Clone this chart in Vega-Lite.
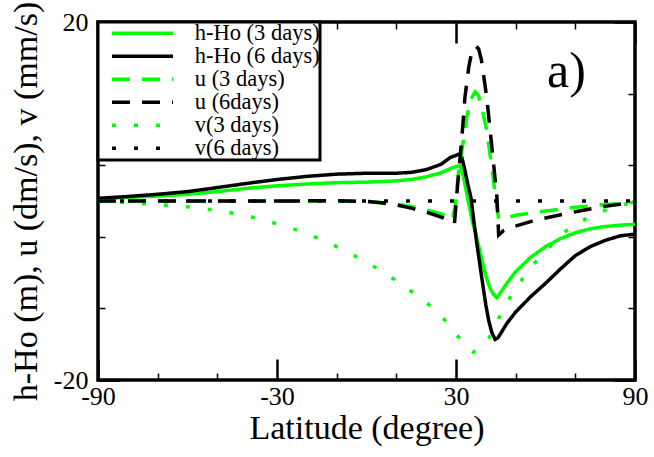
{
  "$schema": "https://vega.github.io/schema/vega-lite/v6.json",
  "width": 537,
  "height": 358,
  "autosize": "none",
  "padding": {"left": 98, "top": 22, "right": 19, "bottom": 77},
  "background": "white",
  "config": {
    "font": "Liberation Serif",
    "view": {"stroke": "black", "strokeWidth": 3.5},
    "axis": {
      "domain": false, "labelColor": "black", "titleColor": "black",
      "tickColor": "black", "labelFont": "Liberation Serif", "titleFont": "Liberation Serif",
      "titleFontWeight": "normal", "labelFlush": false, "labelOverlap": false, "labelBound": false,
      "gridColor": "black", "gridOpacity": 1
    },
    "legend": {
      "orient": "top-left", "offset": 0, "strokeColor": "black", "strokeWidth": 3,
      "fillColor": "white", "padding": 0, "labelFont": "Liberation Serif", "labelFontSize": 22.5,
      "labelColor": "black", "labelLimit": 400, "rowPadding": 0,
      "symbolType": "M0,0H7", "symbolSize": 303.8, "symbolStrokeWidth": 3.5,
      "symbolOffset": 2.75, "labelOffset": 71.5
    }
  },
  "data": {
    "values": [
      {"s": "h-Ho (3 days)", "x": -90, "y": 0.25}, {"s": "h-Ho (3 days)", "x": -80, "y": 0.4},
      {"s": "h-Ho (3 days)", "x": -70, "y": 0.55}, {"s": "h-Ho (3 days)", "x": -60, "y": 0.75},
      {"s": "h-Ho (3 days)", "x": -50, "y": 1.05}, {"s": "h-Ho (3 days)", "x": -40, "y": 1.42},
      {"s": "h-Ho (3 days)", "x": -30, "y": 1.7}, {"s": "h-Ho (3 days)", "x": -20, "y": 1.9},
      {"s": "h-Ho (3 days)", "x": -10, "y": 2.05}, {"s": "h-Ho (3 days)", "x": 0, "y": 2.1},
      {"s": "h-Ho (3 days)", "x": 10, "y": 2.25}, {"s": "h-Ho (3 days)", "x": 15, "y": 2.4},
      {"s": "h-Ho (3 days)", "x": 20, "y": 2.7}, {"s": "h-Ho (3 days)", "x": 25, "y": 3.15},
      {"s": "h-Ho (3 days)", "x": 28, "y": 3.6}, {"s": "h-Ho (3 days)", "x": 30, "y": 3.85},
      {"s": "h-Ho (3 days)", "x": 31.4, "y": 3.95}, {"s": "h-Ho (3 days)", "x": 32.5, "y": 2.7},
      {"s": "h-Ho (3 days)", "x": 33.5, "y": 1.0}, {"s": "h-Ho (3 days)", "x": 34.5, "y": -0.7},
      {"s": "h-Ho (3 days)", "x": 35.5, "y": -2.3}, {"s": "h-Ho (3 days)", "x": 36.5, "y": -3.5},
      {"s": "h-Ho (3 days)", "x": 37.5, "y": -4.9}, {"s": "h-Ho (3 days)", "x": 38.5, "y": -6.3},
      {"s": "h-Ho (3 days)", "x": 39.5, "y": -7.7}, {"s": "h-Ho (3 days)", "x": 40.5, "y": -8.9},
      {"s": "h-Ho (3 days)", "x": 41.5, "y": -9.8}, {"s": "h-Ho (3 days)", "x": 42.5, "y": -10.4},
      {"s": "h-Ho (3 days)", "x": 43.7, "y": -10.8}, {"s": "h-Ho (3 days)", "x": 45, "y": -10.2},
      {"s": "h-Ho (3 days)", "x": 47, "y": -9.2}, {"s": "h-Ho (3 days)", "x": 50, "y": -7.9},
      {"s": "h-Ho (3 days)", "x": 55, "y": -6.3}, {"s": "h-Ho (3 days)", "x": 60, "y": -5.1},
      {"s": "h-Ho (3 days)", "x": 65, "y": -4.2}, {"s": "h-Ho (3 days)", "x": 70, "y": -3.55},
      {"s": "h-Ho (3 days)", "x": 75, "y": -3.1}, {"s": "h-Ho (3 days)", "x": 80, "y": -2.85},
      {"s": "h-Ho (3 days)", "x": 85, "y": -2.7}, {"s": "h-Ho (3 days)", "x": 90, "y": -2.6},

      {"s": "h-Ho (6 days)", "x": -90, "y": 0.3}, {"s": "h-Ho (6 days)", "x": -80, "y": 0.5},
      {"s": "h-Ho (6 days)", "x": -70, "y": 0.75}, {"s": "h-Ho (6 days)", "x": -60, "y": 1.05},
      {"s": "h-Ho (6 days)", "x": -50, "y": 1.5}, {"s": "h-Ho (6 days)", "x": -40, "y": 1.97},
      {"s": "h-Ho (6 days)", "x": -30, "y": 2.4}, {"s": "h-Ho (6 days)", "x": -20, "y": 2.75},
      {"s": "h-Ho (6 days)", "x": -10, "y": 3.0}, {"s": "h-Ho (6 days)", "x": 0, "y": 3.1},
      {"s": "h-Ho (6 days)", "x": 10, "y": 3.1}, {"s": "h-Ho (6 days)", "x": 15, "y": 3.2},
      {"s": "h-Ho (6 days)", "x": 20, "y": 3.5}, {"s": "h-Ho (6 days)", "x": 25, "y": 4.1},
      {"s": "h-Ho (6 days)", "x": 28, "y": 4.85}, {"s": "h-Ho (6 days)", "x": 30, "y": 5.1},
      {"s": "h-Ho (6 days)", "x": 31.6, "y": 5.3}, {"s": "h-Ho (6 days)", "x": 32.3, "y": 4.4},
      {"s": "h-Ho (6 days)", "x": 33, "y": 3.4}, {"s": "h-Ho (6 days)", "x": 34, "y": 1.8},
      {"s": "h-Ho (6 days)", "x": 35, "y": 0.4}, {"s": "h-Ho (6 days)", "x": 36, "y": -2.3},
      {"s": "h-Ho (6 days)", "x": 37, "y": -4.8}, {"s": "h-Ho (6 days)", "x": 38, "y": -7.1},
      {"s": "h-Ho (6 days)", "x": 39, "y": -9.4}, {"s": "h-Ho (6 days)", "x": 40, "y": -11.6},
      {"s": "h-Ho (6 days)", "x": 41, "y": -13.4}, {"s": "h-Ho (6 days)", "x": 42, "y": -14.7},
      {"s": "h-Ho (6 days)", "x": 43.1, "y": -15.45}, {"s": "h-Ho (6 days)", "x": 44, "y": -15.3},
      {"s": "h-Ho (6 days)", "x": 45, "y": -14.8}, {"s": "h-Ho (6 days)", "x": 47, "y": -13.7},
      {"s": "h-Ho (6 days)", "x": 50, "y": -12.4}, {"s": "h-Ho (6 days)", "x": 55, "y": -10.7},
      {"s": "h-Ho (6 days)", "x": 60, "y": -9.2}, {"s": "h-Ho (6 days)", "x": 65, "y": -7.6},
      {"s": "h-Ho (6 days)", "x": 70, "y": -6.1}, {"s": "h-Ho (6 days)", "x": 75, "y": -5.1},
      {"s": "h-Ho (6 days)", "x": 80, "y": -4.4}, {"s": "h-Ho (6 days)", "x": 85, "y": -3.9},
      {"s": "h-Ho (6 days)", "x": 90, "y": -3.7},

      {"s": "u (3 days)", "x": -90, "y": 0}, {"s": "u (3 days)", "x": -60, "y": 0},
      {"s": "u (3 days)", "x": -30, "y": -0.02}, {"s": "u (3 days)", "x": -10, "y": 0},
      {"s": "u (3 days)", "x": 0, "y": -0.05}, {"s": "u (3 days)", "x": 10, "y": -0.35},
      {"s": "u (3 days)", "x": 15, "y": -0.6}, {"s": "u (3 days)", "x": 20, "y": -1.0},
      {"s": "u (3 days)", "x": 25, "y": -1.45}, {"s": "u (3 days)", "x": 28, "y": -1.85},
      {"s": "u (3 days)", "x": 28.8, "y": -2.1}, {"s": "u (3 days)", "x": 29.7, "y": -0.6},
      {"s": "u (3 days)", "x": 30.8, "y": 3.1}, {"s": "u (3 days)", "x": 32.5, "y": 6.8},
      {"s": "u (3 days)", "x": 33.6, "y": 9.4}, {"s": "u (3 days)", "x": 35, "y": 11.4},
      {"s": "u (3 days)", "x": 36.4, "y": 12.2}, {"s": "u (3 days)", "x": 37.5, "y": 11.8},
      {"s": "u (3 days)", "x": 38.6, "y": 10.5}, {"s": "u (3 days)", "x": 40.3, "y": 7.9},
      {"s": "u (3 days)", "x": 42, "y": 3.8}, {"s": "u (3 days)", "x": 43.1, "y": 0.9},
      {"s": "u (3 days)", "x": 44.3, "y": -2.0}, {"s": "u (3 days)", "x": 47, "y": -1.9},
      {"s": "u (3 days)", "x": 50, "y": -1.6}, {"s": "u (3 days)", "x": 58, "y": -1.2},
      {"s": "u (3 days)", "x": 70, "y": -0.7}, {"s": "u (3 days)", "x": 80, "y": -0.4},
      {"s": "u (3 days)", "x": 90, "y": -0.15},

      {"s": "u (6days)", "x": -90, "y": 0}, {"s": "u (6days)", "x": -60, "y": 0},
      {"s": "u (6days)", "x": -30, "y": 0}, {"s": "u (6days)", "x": -10, "y": 0.03},
      {"s": "u (6days)", "x": 0, "y": -0.05}, {"s": "u (6days)", "x": 5, "y": -0.2},
      {"s": "u (6days)", "x": 10, "y": -0.45}, {"s": "u (6days)", "x": 15, "y": -0.8},
      {"s": "u (6days)", "x": 20, "y": -1.25}, {"s": "u (6days)", "x": 25, "y": -1.8},
      {"s": "u (6days)", "x": 28, "y": -2.2}, {"s": "u (6days)", "x": 29.5, "y": -2.5},
      {"s": "u (6days)", "x": 30.2, "y": 0.5}, {"s": "u (6days)", "x": 31.9, "y": 6.8},
      {"s": "u (6days)", "x": 33, "y": 11.6}, {"s": "u (6days)", "x": 34.3, "y": 15.0},
      {"s": "u (6days)", "x": 35.3, "y": 16.7}, {"s": "u (6days)", "x": 36.6, "y": 17.3},
      {"s": "u (6days)", "x": 37.6, "y": 17.0}, {"s": "u (6days)", "x": 38.5, "y": 15.8},
      {"s": "u (6days)", "x": 40.3, "y": 11.6}, {"s": "u (6days)", "x": 42, "y": 6.1},
      {"s": "u (6days)", "x": 43.7, "y": 0.5}, {"s": "u (6days)", "x": 44.3, "y": -3.8},
      {"s": "u (6days)", "x": 46, "y": -3.3}, {"s": "u (6days)", "x": 49, "y": -2.9},
      {"s": "u (6days)", "x": 55, "y": -2.3}, {"s": "u (6days)", "x": 60, "y": -1.9},
      {"s": "u (6days)", "x": 70, "y": -1.2}, {"s": "u (6days)", "x": 80, "y": -0.6},
      {"s": "u (6days)", "x": 90, "y": -0.1},

      {"s": "v(3 days)", "x": -90, "y": 0}, {"s": "v(3 days)", "x": -80, "y": -0.2},
      {"s": "v(3 days)", "x": -70, "y": -0.4}, {"s": "v(3 days)", "x": -60, "y": -0.65},
      {"s": "v(3 days)", "x": -50, "y": -1.05}, {"s": "v(3 days)", "x": -40, "y": -1.65},
      {"s": "v(3 days)", "x": -30, "y": -2.55}, {"s": "v(3 days)", "x": -20, "y": -3.6},
      {"s": "v(3 days)", "x": -10, "y": -5.1}, {"s": "v(3 days)", "x": 0, "y": -6.8},
      {"s": "v(3 days)", "x": 10, "y": -8.9}, {"s": "v(3 days)", "x": 20, "y": -11.3},
      {"s": "v(3 days)", "x": 26, "y": -13.2}, {"s": "v(3 days)", "x": 30, "y": -14.9},
      {"s": "v(3 days)", "x": 33, "y": -16.0}, {"s": "v(3 days)", "x": 35.8, "y": -16.9},
      {"s": "v(3 days)", "x": 38, "y": -16.4}, {"s": "v(3 days)", "x": 40.8, "y": -15.5},
      {"s": "v(3 days)", "x": 44, "y": -13.3}, {"s": "v(3 days)", "x": 47, "y": -11.4},
      {"s": "v(3 days)", "x": 50, "y": -9.7}, {"s": "v(3 days)", "x": 55.4, "y": -7.3},
      {"s": "v(3 days)", "x": 60, "y": -5.6}, {"s": "v(3 days)", "x": 65, "y": -3.8},
      {"s": "v(3 days)", "x": 70, "y": -2.6}, {"s": "v(3 days)", "x": 77, "y": -1.4},
      {"s": "v(3 days)", "x": 84, "y": -0.6}, {"s": "v(3 days)", "x": 90, "y": -0.1},

      {"s": "v(6 days)", "x": -90, "y": 0}, {"s": "v(6 days)", "x": 0, "y": 0},
      {"s": "v(6 days)", "x": 90, "y": 0}
    ]
  },
  "layer": [
    {
      "mark": {"type": "line", "strokeWidth": 3.5, "strokeCap": "butt"},
      "encoding": {
        "x": {
          "field": "x", "type": "quantitative",
          "scale": {"domain": [-90, 90], "nice": false, "zero": false},
          "axis": {"orient": "bottom",
                   "values": [-90, -80, -70, -60, -50, -40, -30, -20, -10, 0, 10, 20, 30, 40, 50, 60, 70, 80, 90],
                   "ticks": false, "grid": true, "labelOverlap": false, "labelSeparation": 0,
                   "gridDash": {"condition": {"test": "datum.value % 30 === 0", "value": [21, 316, 21]}, "value": [7, 344, 7]},
                   "gridWidth": {"condition": {"test": "datum.value % 30 === 0", "value": 2.5}, "value": 1.5},
                   "labelExpr": "datum.value % 30 === 0 ? datum.value + '' : ''",
                   "labelFontSize": 26, "labelPadding": 3, "title": "Latitude (degree)",
                   "titleFontSize": 34, "titlePadding": 2}
        },
        "y": {
          "field": "y", "type": "quantitative",
          "scale": {"domain": [-20, 20], "nice": false, "zero": false},
          "axis": {"orient": "left",
                   "values": [-20, -19, -18, -17, -16, -15, -14, -13, -12, -11, -10, -9, -8, -7, -6, -5, -4, -3, -2, -1, 0, 1, 2, 3, 4, 5, 6, 7, 8, 9, 10, 11, 12, 13, 14, 15, 16, 17, 18, 19, 20],
                   "ticks": false, "grid": true, "labelOverlap": false, "labelSeparation": 0,
                   "gridDash": {"condition": {"test": "datum.value % 5 === 0", "value": [21, 495, 21]}, "value": [7, 523, 7]},
                   "gridWidth": {"condition": {"test": "datum.value % 5 === 0", "value": 2.5}, "value": 1.5},
                   "labelExpr": "datum.value % 5 === 0 ? datum.value + '' : ''",
                   "labelFontSize": 26, "labelPadding": 10, "title": "h-Ho (m), u (dm/s), v (mm/s)",
                   "titleFontSize": 34, "titlePadding": 10}
        },
        "color": {
          "field": "s", "type": "nominal",
          "scale": {
            "domain": ["h-Ho (3 days)", "h-Ho (6 days)", "u (3 days)", "u (6days)", "v(3 days)", "v(6 days)"],
            "range": ["#00ff00", "#000000", "#00ff00", "#000000", "#00ff00", "#000000"]
          },
          "legend": {"title": null}
        },
        "strokeDash": {
          "field": "s", "type": "nominal",
          "scale": {
            "domain": ["h-Ho (3 days)", "h-Ho (6 days)", "u (3 days)", "u (6days)", "v(3 days)", "v(6 days)"],
            "range": [[1, 0], [1, 0], [18, 12], [18, 12], [4, 18], [4, 18]]
          },
          "legend": {"title": null}
        }
      }
    },
    {
      "data": {"values": [{"x": 67, "y": 12.7, "t": "a)"}]},
      "mark": {"type": "text", "fontSize": 50, "font": "Liberation Serif", "baseline": "alphabetic", "align": "center", "color": "black"},
      "encoding": {
        "x": {"field": "x", "type": "quantitative"},
        "y": {"field": "y", "type": "quantitative"},
        "text": {"field": "t"}
      }
    }
  ]
}
